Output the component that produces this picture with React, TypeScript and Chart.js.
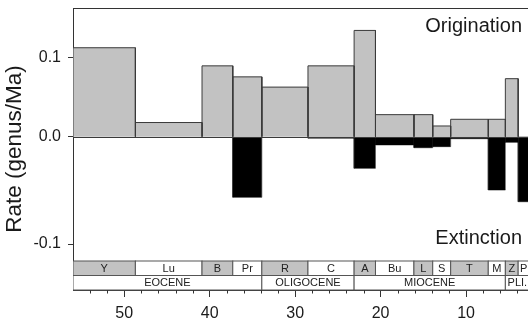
import { useEffect, useRef } from "react";
import { Chart, registerables } from "chart.js";

Chart.register(...registerables);

// ---- data (ages in Ma, rates in genus/Ma) ----
const stageNames = ["Y", "Lu", "B", "Pr", "R", "C", "A", "Bu", "L", "S", "T", "M", "Z", "P"];
const stageStarts = [56.0, 48.7, 40.9, 37.3, 33.9, 28.5, 23.1, 20.6, 16.1, 13.9, 11.8, 7.4, 5.4, 3.9];
const stageEnds = [48.7, 40.9, 37.3, 33.9, 28.5, 23.1, 20.6, 16.1, 13.9, 11.8, 7.4, 5.4, 3.9, 2.6];
const stageShaded = [true, false, true, false, true, false, true, false, true, false, true, false, true, false];
const origination = [0.113, 0.018, 0.09, 0.076, 0.063, 0.09, 0.135, 0.028, 0.028, 0.0136, 0.0221, 0.0221, 0.0737, 0];
const extinction = [0, 0, 0, 0.0565, 0, 0.0014, 0.0295, 0.0077, 0.0103, 0.0093, 0.0019, 0.0497, 0.0053, 0.0606];
const epochNames = ["EOCENE", "OLIGOCENE", "MIOCENE", "PLI."];
const epochStarts = [56.0, 33.9, 23.1, 5.4];
const epochEnds = [33.9, 23.1, 5.4, 2.59];
const yTickLabels = [0.1, 0.0, -0.1];
const xMajorTicks = [50, 40, 30, 20, 10];
const xMinorStep = 2;

// the lower half of the original axis is drawn on a stretched scale
const NEG_STRETCH = 1.364;

const FONT = "'Liberation Sans', Arial, Helvetica, sans-serif";
const GRAY = "#c2c2c2";
const EDGE = "#3a3a3a";

function rectData(x0: number, x1: number, v: number) {
  return [
    { x: x0, y: 0 },
    { x: x0, y: v },
    { x: x1, y: v },
    { x: x1, y: 0 },
  ];
}

const decorPlugin = {
  id: "decor",
  afterDatasetsDraw(chart: any) {
    const { ctx, chartArea } = chart;
    const xs = chart.scales.x;
    const ys = chart.scales.y;
    const L = chartArea.left;
    const R = chartArea.right;
    ctx.save();
    ctx.beginPath();
    ctx.rect(L, 0, R - L, chart.height);
    ctx.clip();

    // zero line
    const y0 = Math.round(ys.getPixelForValue(0)) + 0.5;
    ctx.strokeStyle = EDGE;
    ctx.lineWidth = 1;
    ctx.beginPath();
    ctx.moveTo(L, y0);
    ctx.lineTo(R, y0);
    ctx.stroke();

    // top frame line
    ctx.strokeStyle = "#333";
    ctx.beginPath();
    ctx.moveTo(L, chartArea.top + 0.5);
    ctx.lineTo(R, chartArea.top + 0.5);
    ctx.stroke();

    // time-scale bands
    const bottom = chartArea.bottom;
    const bandH = 14.5;
    const stageTop = bottom - 2 * bandH;
    const epochTop = bottom - bandH;
    ctx.font = `11px ${FONT}`;
    ctx.textAlign = "center";
    ctx.textBaseline = "middle";
    ctx.lineWidth = 1;
    stageNames.forEach((name, i) => {
      const a = xs.getPixelForValue(stageStarts[i]);
      const b = xs.getPixelForValue(stageEnds[i]);
      ctx.fillStyle = stageShaded[i] ? GRAY : "#ffffff";
      ctx.fillRect(a, stageTop, b - a, bandH);
      ctx.strokeStyle = "#555";
      ctx.strokeRect(a, stageTop, b - a, bandH);
      ctx.fillStyle = "#222";
      ctx.fillText(name, (a + b) / 2, stageTop + bandH / 2 + 0.5);
    });
    epochNames.forEach((name, i) => {
      const a = xs.getPixelForValue(epochStarts[i]);
      const b = xs.getPixelForValue(epochEnds[i]);
      ctx.fillStyle = "#ffffff";
      ctx.fillRect(a, epochTop, b - a, bandH);
      ctx.strokeStyle = "#555";
      ctx.strokeRect(a, epochTop, b - a, bandH);
      ctx.fillStyle = "#222";
      ctx.fillText(name, (a + b) / 2, epochTop + bandH / 2 + 0.5);
    });

    // panel captions
    ctx.font = `20px ${FONT}`;
    ctx.textAlign = "right";
    ctx.textBaseline = "alphabetic";
    ctx.fillStyle = "#1a1a1a";
    ctx.fillText("Origination", R - 6, chartArea.top + 24);
    ctx.fillText("Extinction", R - 6, stageTop - 17);
    ctx.restore();

    // minor ticks on the time axis
    ctx.save();
    ctx.strokeStyle = "#333";
    ctx.lineWidth = 1;
    xs.ticks.forEach((t: any) => {
      if (xMajorTicks.includes(t.value)) return;
      const px = Math.round(xs.getPixelForValue(t.value)) + 0.5;
      ctx.beginPath();
      ctx.moveTo(px, bottom);
      ctx.lineTo(px, bottom + 3.5);
      ctx.stroke();
    });
    ctx.restore();
  },
};

export default function App() {
  const ref = useRef<HTMLCanvasElement | null>(null);

  useEffect(() => {
    if (!ref.current) return;
    Chart.defaults.font.family = FONT;
    Chart.defaults.color = "#1a1a1a";

    const datasets: any[] = [];
    stageNames.forEach((_, i) => {
      if (origination[i] > 0) {
        datasets.push({
          data: rectData(stageStarts[i], stageEnds[i], origination[i]),
          backgroundColor: GRAY,
          borderColor: EDGE,
          borderWidth: 1,
          fill: "origin",
          pointRadius: 0,
          tension: 0,
        });
      }
    });
    stageNames.forEach((_, i) => {
      if (extinction[i] > 0) {
        datasets.push({
          data: rectData(stageStarts[i], stageEnds[i], -extinction[i] * NEG_STRETCH),
          backgroundColor: "#000000",
          borderColor: "#000000",
          borderWidth: 0.5,
          fill: "origin",
          pointRadius: 0,
          tension: 0,
        });
      }
    });

    const chart = new Chart(ref.current, {
      type: "line",
      data: { datasets },
      plugins: [decorPlugin],
      options: {
        animation: false,
        responsive: false,
        devicePixelRatio: 1,
        layout: { padding: { top: 8, right: 0, left: 0, bottom: 0 } },
        plugins: { legend: { display: false }, tooltip: { enabled: false } },
        scales: {
          x: {
            type: "linear",
            reverse: true,
            min: 2.75,
            max: 56,
            afterBuildTicks(scale: any) {
              const t: any[] = [];
              for (let v = 4; v <= 54; v += xMinorStep) t.push({ value: v });
              scale.ticks = t;
            },
            afterFit(scale: any) {
              scale.height = 32;
              scale.paddingLeft = 0;
              scale.paddingRight = 0;
            },
            ticks: {
              autoSkip: false,
              maxRotation: 0,
              padding: 7,
              font: { size: 16 },
              color: "#1a1a1a",
              callback: (v: any) => (xMajorTicks.includes(v) ? String(v) : ""),
            },
            grid: {
              drawOnChartArea: false,
              tickLength: 7,
              tickColor: (c: any) => (xMajorTicks.includes(c.tick?.value) ? "#333" : "rgba(0,0,0,0)"),
            },
            border: { display: true, color: "#333", width: 1 },
          },
          y: {
            type: "linear",
            min: -0.1948,
            max: 0.1635,
            afterBuildTicks(scale: any) {
              scale.ticks = yTickLabels
                .map((v) => ({ value: v < 0 ? v * NEG_STRETCH : v }))
                .sort((a, b) => a.value - b.value);
            },
            afterFit(scale: any) {
              scale.width = 73;
              scale.paddingTop = 0;
              scale.paddingBottom = 0;
            },
            ticks: {
              padding: 7,
              font: { size: 16 },
              color: "#1a1a1a",
              callback: (v: any) => (v < 0 ? v / NEG_STRETCH : v).toFixed(1),
            },
            grid: {
              drawOnChartArea: false,
              tickLength: 5,
              tickColor: "#333",
            },
            border: { display: true, color: "#333", width: 1 },
            title: {
              display: true,
              text: "Rate (genus/Ma)",
              font: { size: 22.5 },
              color: "#1a1a1a",
              padding: { top: 1, bottom: 0 },
            },
          },
        },
      },
    });
    return () => chart.destroy();
  }, []);

  return (
    <div style={{ position: "absolute", left: 0, top: 0, width: 528, height: 322, overflow: "hidden", background: "#fff" }}>
      <canvas ref={ref} width={528} height={322} style={{ display: "block" }} />
    </div>
  );
}
